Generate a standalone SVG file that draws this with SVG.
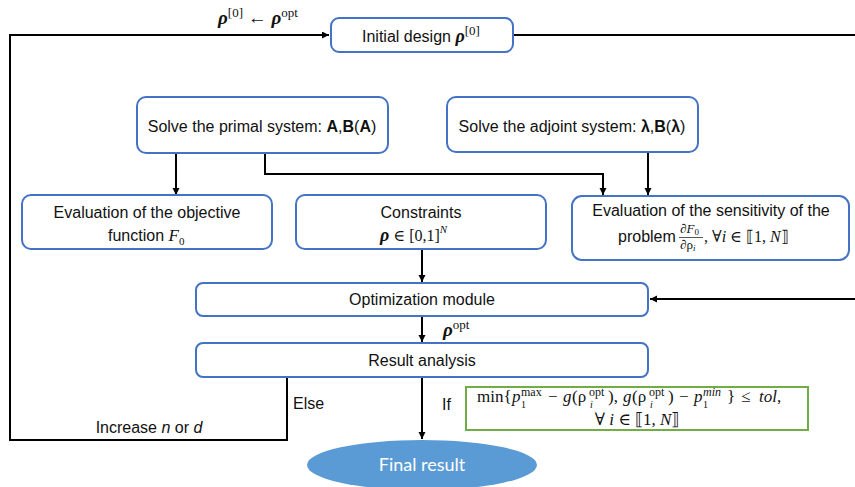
<svg xmlns="http://www.w3.org/2000/svg" width="855" height="487" viewBox="0 0 855 487">
<style>
.box{fill:#fff;stroke:#4472C4;stroke-width:2}
.t{font-family:"Liberation Sans",Arial,sans-serif;font-size:16px;fill:#111}
.m{font-family:"Liberation Serif","DejaVu Serif",serif;font-style:italic;fill:#111}
.u{font-style:normal}
.b{font-weight:bold}
.c{stroke:#000;stroke-width:2;fill:none}
</style>
<defs>
<marker id="ah" markerUnits="userSpaceOnUse" markerWidth="8" markerHeight="8" refX="7" refY="3.5" orient="auto">
<path d="M0,0 L7,3.5 L0,7 z" fill="#000"/>
</marker>
</defs>
<rect width="855" height="487" fill="#fff"/>

<g id="connectors">
<path class="c" d="M287,377 V440 H10 V35 H329" marker-end="url(#ah)"/>
<path class="c" d="M513,35 H870 V299 H650" marker-end="url(#ah)"/>
<path class="c" d="M176,153 V195" marker-end="url(#ah)"/>
<path class="c" d="M265,153 V174 H603 V195" marker-end="url(#ah)"/>
<path class="c" d="M648,152 V195" marker-end="url(#ah)"/>
<path class="c" d="M422,249 V282" marker-end="url(#ah)"/>
<path class="c" d="M422,316 V342" marker-end="url(#ah)"/>
<path class="c" d="M422,377 V439" marker-end="url(#ah)"/>
<text class="m" font-size="19"><tspan x="218" y="24" class="b">ρ</tspan><tspan y="17" font-size="13" class="u">[0]</tspan><tspan y="24" class="u"> ← </tspan><tspan class="b">ρ</tspan><tspan y="17" font-size="13" class="u">opt</tspan></text>
<text class="m" font-size="19"><tspan x="443" y="336" class="b">ρ</tspan><tspan y="329" font-size="13" class="u">opt</tspan></text>
<text class="t" x="293" y="409">Else</text>
<text class="t" x="442" y="410">If</text>
<text class="t" x="149" y="433" text-anchor="middle" font-size="17">Increase <tspan font-style="italic">n</tspan> or <tspan font-style="italic">d</tspan></text>
</g>

<g id="initial">
<rect class="box" x="331" y="18" width="182" height="34" rx="8"/>
<text class="t" x="362" y="42">Initial design <tspan class="m b" font-size="18">ρ</tspan><tspan class="m u" font-size="13" dy="-7">[0]</tspan></text>
</g>

<g id="primal">
<rect class="box" x="137" y="97" width="251" height="56" rx="9"/>
<text class="t" x="262" y="132" text-anchor="middle">Solve the primal system: <tspan class="b">A</tspan>,<tspan class="b">B</tspan>(<tspan class="b">A</tspan>)</text>
</g>

<g id="adjoint">
<rect class="box" x="447" y="97" width="251" height="55" rx="9"/>
<text class="t" x="572" y="132" text-anchor="middle">Solve the adjoint system: <tspan class="b">λ</tspan>,<tspan class="b">B</tspan>(<tspan class="b">λ</tspan>)</text>
</g>

<g id="objective">
<rect class="box" x="22" y="195" width="250" height="54" rx="9"/>
<text class="t" x="147" y="218" text-anchor="middle">Evaluation of the objective</text>
<text class="t" x="108" y="241">function <tspan class="m" font-size="17">F</tspan><tspan class="m u" font-size="11" dy="4">0</tspan></text>
</g>

<g id="constraints">
<rect class="box" x="296" y="195" width="250" height="54" rx="9"/>
<text class="t" x="421" y="218" text-anchor="middle">Constraints</text>
<text class="m" font-size="16"><tspan x="380" y="241" class="b" font-size="18">ρ</tspan><tspan class="u"> ∈ [0,1]</tspan><tspan y="233" font-size="11">N</tspan></text>
</g>

<g id="sensitivity">
<rect class="box" x="572" y="196" width="277" height="64" rx="10"/>
<text class="t" x="711" y="216" text-anchor="middle" font-size="15.3">Evaluation of the sensitivity of the</text>
<text class="t" x="618" y="242" font-size="15.3">problem</text>
<text class="m" font-size="13"><tspan x="680" y="233" class="u">∂</tspan><tspan>F</tspan><tspan font-size="9" class="u" dy="2">0</tspan></text>
<line x1="679" y1="237.5" x2="703" y2="237.5" stroke="#111" stroke-width="0.7"/>
<text class="m" font-size="13"><tspan x="680" y="249" class="u">∂ρ</tspan><tspan font-size="9" dy="2">i</tspan></text>
<text class="m" font-size="16"><tspan x="704" y="242" class="u">, ∀</tspan><tspan>i</tspan><tspan class="u"> ∈ ⟦1, </tspan><tspan>N</tspan><tspan class="u">⟧</tspan></text>
</g>

<g id="optimization">
<rect class="box" x="196" y="283" width="452" height="33" rx="7"/>
<text class="t" x="422" y="305" text-anchor="middle">Optimization module</text>
</g>

<g id="result">
<rect class="box" x="196" y="343" width="452" height="34" rx="7"/>
<text class="t" x="422" y="366" text-anchor="middle">Result analysis</text>
</g>

<g id="condition">
<rect x="466" y="387" width="342" height="43" fill="#fff" stroke="#70AD47" stroke-width="2"/>
<text class="m" font-size="17">
<tspan x="477" y="402" class="u">min{</tspan>
<tspan x="512" y="402">p</tspan>
<tspan x="521" y="396" font-size="12" class="u">max</tspan>
<tspan x="521" y="408" font-size="10" class="u">1</tspan>
<tspan x="548" y="402" class="u">−</tspan>
<tspan x="563" y="402">g</tspan>
<tspan x="572" y="402" class="u">(ρ</tspan>
<tspan x="589" y="396" font-size="12" class="u">opt</tspan>
<tspan x="590" y="408" font-size="10">i</tspan>
<tspan x="608" y="402" class="u">),</tspan>
<tspan x="623" y="402">g</tspan>
<tspan x="632" y="402" class="u">(ρ</tspan>
<tspan x="649" y="396" font-size="12" class="u">opt</tspan>
<tspan x="650" y="408" font-size="10">i</tspan>
<tspan x="668" y="402" class="u">)</tspan>
<tspan x="679" y="402" class="u">−</tspan>
<tspan x="694" y="402">p</tspan>
<tspan x="703" y="396" font-size="12">min</tspan>
<tspan x="703" y="408" font-size="10" class="u">1</tspan>
<tspan x="727" y="402" class="u">}</tspan>
<tspan x="741" y="402" class="u">≤</tspan>
<tspan x="759" y="402">tol</tspan><tspan class="u">,</tspan>
</text>
<text class="m" font-size="17" x="637" y="425" text-anchor="middle"><tspan class="u">∀ </tspan>i<tspan class="u"> ∈ ⟦1, </tspan>N<tspan class="u">⟧</tspan></text>
</g>

<g id="final">
<ellipse cx="422" cy="465" rx="115" ry="25" fill="#5B9BD5"/>
<text x="422" y="471" text-anchor="middle" font-family="Lato,'Open Sans',sans-serif" font-size="18" fill="#fff">Final result</text>
</g>
</svg>
